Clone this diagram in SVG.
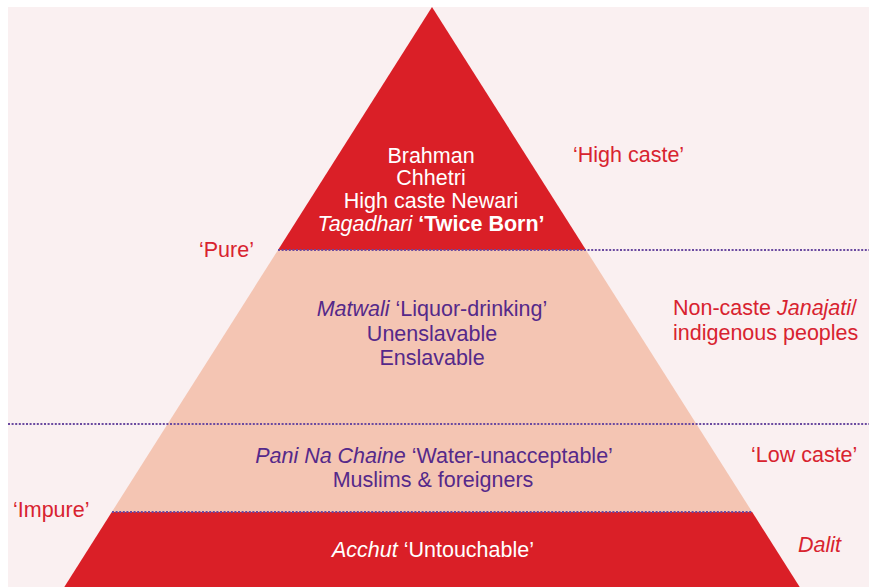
<svg xmlns="http://www.w3.org/2000/svg" width="869" height="587" viewBox="0 0 869 587">
<style>
text{font-family:"Liberation Sans","Noto Sans",Arial,sans-serif;font-size:21.5px;text-anchor:middle}
.w{fill:#ffffff}
.p{fill:#55298a}
.r{fill:#d8232f}
.l{text-anchor:start}
.i{font-style:italic}
.b{font-weight:bold}
.red{fill:#da1f27}
.pink{fill:#f4c5b3}
.dot{stroke:#6a4aa0;stroke-width:2;stroke-dasharray:2 1.6;fill:none}
</style>
<rect x="8" y="7" width="861" height="580" fill="#faf0f1"/>
<g id="level-twice-born">
<polygon class="red" points="432,7 586,250 278,250"/>
<text class="w" x="431" y="163">Brahman</text>
<text class="w" x="431" y="185">Chhetri</text>
<text class="w" x="431" y="208">High caste Newari</text>
<text class="w" x="431" y="231"><tspan class="i">Tagadhari</tspan> <tspan class="b">‘Twice Born’</tspan></text>
</g>
<g id="level-matwali">
<polygon class="pink" points="278,250 586,250 696.4,424 167.6,424"/>
<text class="p" x="432" y="316"><tspan class="i">Matwali</tspan> ‘Liquor-drinking’</text>
<text class="p" x="432" y="341">Unenslavable</text>
<text class="p" x="432" y="365">Enslavable</text>
</g>
<g id="level-pani">
<polygon class="pink" points="167.6,424 696.4,424 752.2,512 111.8,512"/>
<text class="p" x="434" y="463"><tspan class="i">Pani Na Chaine</tspan> ‘Water-unacceptable’</text>
<text class="p" x="433" y="487">Muslims &amp; foreigners</text>
</g>
<g id="level-acchut">
<polygon class="red" points="111.8,512 752.2,512 799.7,587 64.3,587"/>
<text class="w" x="433" y="557"><tspan class="i">Acchut</tspan> ‘Untouchable’</text>
</g>
<g id="connectors">
<line class="dot" x1="278" y1="250" x2="869" y2="250"/>
<line class="dot" x1="8" y1="424" x2="869" y2="424"/>
<line class="dot" x1="112" y1="512" x2="752" y2="512"/>
</g>
<g id="labels">
<text class="r l" x="573" y="162">‘High caste’</text>
<text class="r l" x="199" y="257">‘Pure’</text>
<text class="r l" x="673" y="315">Non-caste <tspan class="i">Janajati</tspan>/</text>
<text class="r l" x="673" y="340">indigenous peoples</text>
<text class="r l" x="751" y="462">‘Low caste’</text>
<text class="r l" x="13" y="517">‘Impure’</text>
<text class="r l i" x="798" y="552">Dalit</text>
</g>
</svg>
